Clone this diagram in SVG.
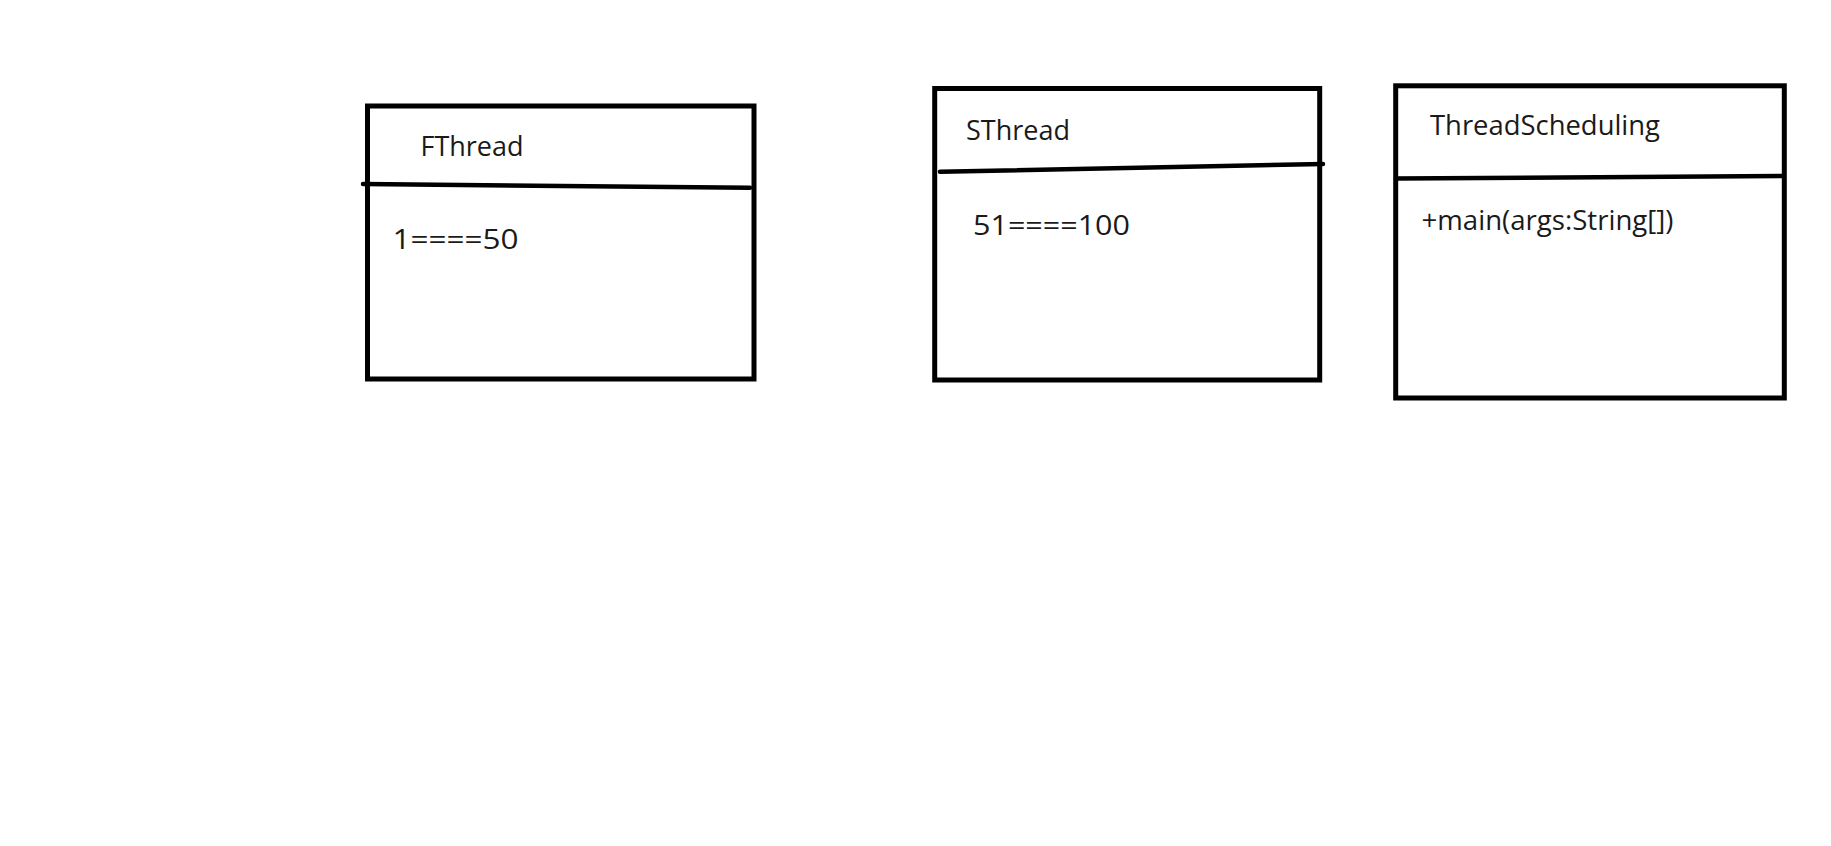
<svg xmlns="http://www.w3.org/2000/svg" width="1831" height="846" viewBox="0 0 1831 846">
  <style>
    .box { fill: #ffffff; stroke: #000000; stroke-width: 5; }
    .div { fill: none; stroke: #000000; stroke-width: 4.5; stroke-linecap: round; }
    .t { font-family: "Open Sans", "Noto Sans", "Liberation Sans", sans-serif; font-size: 27px; fill: #1a1a1a; }
  </style>
  <rect x="0" y="0" width="1831" height="846" fill="#ffffff"/>
  <g id="FThread">
    <rect class="box" x="367.5" y="106" width="386.5" height="273"/>
    <path class="div" d="M363 184 L750 187.7"/>
    <text class="t" x="420.5" y="156" textLength="103" lengthAdjust="spacingAndGlyphs">FThread</text>
    <text class="t" x="392.5" y="248.5" textLength="126" lengthAdjust="spacingAndGlyphs">1====50</text>
  </g>
  <g id="SThread">
    <rect class="box" x="934.7" y="88.5" width="385" height="291.5"/>
    <path class="div" d="M940 171.7 L1323 164"/>
    <text class="t" x="966" y="139.5" textLength="104" lengthAdjust="spacingAndGlyphs">SThread</text>
    <text class="t" x="973" y="235" textLength="157" lengthAdjust="spacingAndGlyphs">51====100</text>
  </g>
  <g id="ThreadScheduling">
    <rect class="box" x="1395.7" y="85.8" width="388.6" height="312.2"/>
    <path class="div" d="M1396 178.5 L1784 176"/>
    <text class="t" x="1430" y="135.2" textLength="230" lengthAdjust="spacingAndGlyphs">ThreadScheduling</text>
    <text class="t" x="1421.5" y="230" textLength="252" lengthAdjust="spacingAndGlyphs">+main(args:String[])</text>
  </g>
  <g id="connectors"/>
</svg>
